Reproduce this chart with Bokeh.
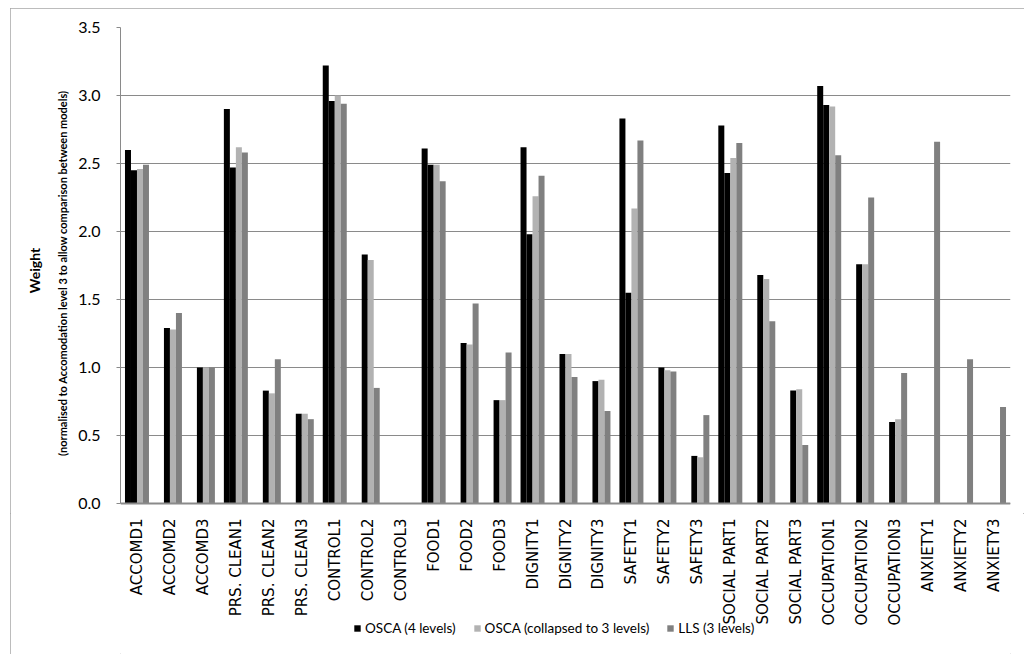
from bokeh.plotting import figure
from bokeh.layouts import column
from bokeh.models import (FactorRange, Range1d, ColumnDataSource, Legend, LegendItem, Span,
                          FixedTicker, CustomJSTickFormatter, LinearAxis)
from bokeh.core.properties import value
from bokeh.transform import dodge
from bokeh.embed import file_html
from bokeh.resources import INLINE

categories = ["ACCOMD1", "ACCOMD2", "ACCOMD3", "PRS. CLEAN1", "PRS. CLEAN2", "PRS. CLEAN3",
              "CONTROL1", "CONTROL2", "CONTROL3", "FOOD1", "FOOD2", "FOOD3",
              "DIGNITY1", "DIGNITY2", "DIGNITY3", "SAFETY1", "SAFETY2", "SAFETY3",
              "SOCIAL PART1", "SOCIAL PART2", "SOCIAL PART3",
              "OCCUPATION1", "OCCUPATION2", "OCCUPATION3", "ANXIETY1", "ANXIETY2", "ANXIETY3"]

# extra OSCA (4 levels) bar shown for level-1 attributes
osca4_top = [2.60, None, None, 2.90, None, None, 3.22, None, None, 2.61, None, None,
             2.62, None, None, 2.83, None, None, 2.78, None, None, 3.07, None, None,
             None, None, None]
osca4 = [2.45, 1.29, 1.00, 2.47, 0.83, 0.66, 2.96, 1.83, None, 2.49, 1.18, 0.76,
         1.98, 1.10, 0.90, 1.55, 1.00, 0.35, 2.43, 1.68, 0.83, 2.93, 1.76, 0.60,
         None, None, None]
osca3 = [2.46, 1.28, 1.00, 2.62, 0.81, 0.66, 3.00, 1.79, None, 2.49, 1.17, 0.76,
         2.26, 1.10, 0.91, 2.17, 0.98, 0.34, 2.54, 1.65, 0.84, 2.92, 1.76, 0.62,
         None, None, None]
lls = [2.49, 1.40, 1.00, 2.58, 1.06, 0.62, 2.94, 0.85, None, 2.37, 1.47, 1.11,
       2.41, 0.93, 0.68, 2.67, 0.97, 0.65, 2.65, 1.34, 0.43, 2.56, 2.25, 0.96,
       2.66, 1.06, 0.71]

series_labels = ["OSCA (4 levels)", "OSCA (collapsed to 3 levels)", "LLS (3 levels)"]
series_colors = ["#000000", "#b2b2b2", "#808080"]
y_ticks = [0.0, 0.5, 1.0, 1.5, 2.0, 2.5, 3.0, 3.5]
y_max = 3.5
px_per_unit = 136.0

xr = FactorRange(*categories, range_padding=0)

# ---------- main chart ----------
p = figure(x_range=xr, y_range=Range1d(-10 / px_per_unit, y_max),
           width=1014, height=505, output_backend="svg", toolbar_location=None,
           x_axis_location=None,
           min_border_left=110, min_border_right=14, min_border_top=19, min_border_bottom=0)
p.outline_line_color = None
p.background_fill_color = "white"
p.border_fill_color = "white"

def src(vals):
    c = [k for k, v in zip(categories, vals) if v is not None]
    t = [v for v in vals if v is not None]
    return ColumnDataSource(dict(cat=c, top=t))

w = 0.182
p.vbar(x=dodge("cat", -1.5 * w, range=xr), top="top", width=w, source=src(osca4_top),
       fill_color=series_colors[0], line_color=None)
p.vbar(x=dodge("cat", -0.5 * w, range=xr), top="top", width=w, source=src(osca4),
       fill_color=series_colors[0], line_color=None)
p.vbar(x=dodge("cat", 0.5 * w, range=xr), top="top", width=w, source=src(osca3),
       fill_color=series_colors[1], line_color=None)
p.vbar(x=dodge("cat", 1.5 * w, range=xr), top="top", width=w, source=src(lls),
       fill_color=series_colors[2], line_color=None)

p.add_layout(Span(location=0, dimension="width", line_color="#8a8a8a", line_width=2))

p.xgrid.grid_line_color = None
p.ygrid.grid_line_color = "#8a8a8a"
p.ygrid.grid_line_width = 1
p.yaxis.ticker = FixedTicker(ticks=y_ticks)
p.yaxis.bounds = (0, y_max)
p.yaxis.formatter = CustomJSTickFormatter(code="return tick.toFixed(1);")
p.yaxis.axis_line_color = "#8a8a8a"
p.yaxis.major_tick_line_color = "#8a8a8a"
p.yaxis.major_tick_out = 4
p.yaxis.major_tick_in = 0
p.yaxis.minor_tick_line_color = None
p.yaxis.major_label_standoff = 16
p.yaxis.major_label_text_font = "Lato"
p.yaxis.major_label_text_font_size = "16px"
p.yaxis.major_label_text_color = "#000000"
p.yaxis.axis_label = "(normalised to Accomodation  level 3 to allow  comparison between models)"
p.yaxis.axis_label_text_font = "Lato"
p.yaxis.axis_label_text_font_size = "11px"
p.yaxis.axis_label_text_font_style = "bold"
p.yaxis.axis_label_text_color = "#000000"
p.yaxis.axis_label_standoff = 6

w_axis = LinearAxis(ticker=FixedTicker(ticks=[]),
                    axis_line_color=None, major_tick_line_color=None, minor_tick_line_color=None,
                    major_tick_out=0, major_tick_in=0, major_label_standoff=0,
                    axis_label="Weight", axis_label_text_font="Lato",
                    axis_label_text_font_size="14px", axis_label_text_font_style="bold",
                    axis_label_text_color="#000000", axis_label_standoff=11)
p.add_layout(w_axis, "left")

# ---------- category labels and legend strip ----------
strip_h = 141
q = figure(x_range=xr, y_range=Range1d(0, strip_h),
           width=1014, height=strip_h, output_backend="svg", toolbar_location=None,
           x_axis_location=None, y_axis_location=None,
           min_border_left=110, min_border_right=14, min_border_top=0, min_border_bottom=0)
q.outline_line_color = None
q.xgrid.grid_line_color = None
q.ygrid.grid_line_color = None
q.background_fill_color = "white"
q.border_fill_color = "white"

q.text(x="cat", y="y", text="cat",
       source=ColumnDataSource(dict(cat=categories, y=[strip_h - 5] * len(categories))),
       angle=1.5707963, text_align="right", text_baseline="middle",
       text_font=value("DejaVu Sans"), text_font_size="15px", text_color="#000000")

# zero-height stand-in bars that only carry the legend swatches
items = []
for lab, col in zip(series_labels, series_colors):
    r = q.vbar(x="cat", top="top", bottom="top", width=0.2,
               source=ColumnDataSource(dict(cat=[categories[0]], top=[0.0])),
               fill_color=col, line_color=None)
    items.append(LegendItem(label=lab, renderers=[r]))

legend = Legend(items=items, orientation="horizontal", location=(233, 18),
                glyph_width=8, glyph_height=8, label_standoff=4, spacing=17,
                label_text_font="Lato", label_text_font_size="13.5px",
                label_text_color="#000000",
                border_line_color=None, background_fill_alpha=0, padding=2, margin=0)
q.add_layout(legend, "center")

layout = column(p, q, spacing=0, margin=(8, 0, 0, 10),
                styles={"outline": "1px solid #a6a6a6", "outline-offset": "-1px"})

open("out.html", "w").write(file_html(layout, INLINE))
